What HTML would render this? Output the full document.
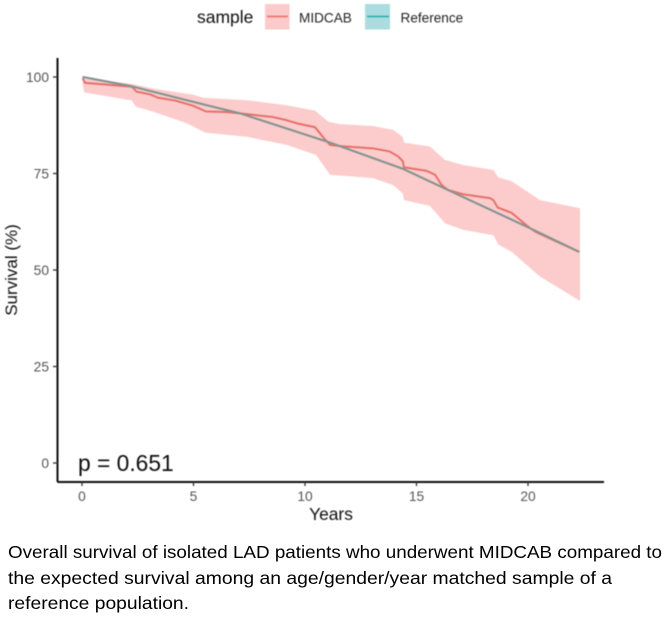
<!DOCTYPE html>
<html lang="en">
<head>
<meta charset="utf-8">
<title>Survival chart</title>
<style>
html,body{margin:0;padding:0;background:#fff;width:666px;height:617px;overflow:hidden}
svg{display:block;font-family:"Liberation Sans",sans-serif}
</style>
</head>
<body>
<svg id="chart" width="666" height="617" viewBox="0 0 666 617" xmlns="http://www.w3.org/2000/svg">
  <defs><filter id="soft" x="-5%" y="-5%" width="110%" height="110%"><feGaussianBlur stdDeviation="0.45"/></filter></defs>
  <g id="plot" filter="url(#soft)"></g>
  <g id="axes" filter="url(#soft)"></g>
  <g filter="url(#soft)">
    <text x="197" y="23" font-size="17.5" fill="#111">sample</text>
    <rect x="265" y="4" width="24.5" height="25.5" fill="#fbcaca"/>
    <line x1="267" x2="288" y1="16.5" y2="16.5" stroke="#ea7d76" stroke-width="2"/>
    <text x="299" y="22.5" font-size="13.6" fill="#222">MIDCAB</text>
    <rect x="365" y="4" width="25" height="25.5" fill="#abdcdf"/>
    <line x1="367" x2="389" y1="16.5" y2="16.5" stroke="#2fb1b6" stroke-width="2"/>
    <text x="400.5" y="22.5" font-size="13.6" fill="#222">Reference</text>
  </g>
  <text x="78" y="471" font-size="22.8" fill="#111" filter="url(#soft)">p = 0.651</text>
  <text x="331" y="520" text-anchor="middle" font-size="17.4" fill="#111" filter="url(#soft)">Years</text>
  <text transform="translate(17,270) rotate(-90)" text-anchor="middle" font-size="17" fill="#111" filter="url(#soft)">Survival (%)</text>
  <g font-size="17.5" fill="#000">
    <text x="8" y="558" textLength="654" lengthAdjust="spacingAndGlyphs">Overall survival of isolated LAD patients who underwent MIDCAB compared to</text>
    <text x="8" y="584" textLength="604" lengthAdjust="spacingAndGlyphs">the expected survival among an age/gender/year matched sample of a</text>
    <text x="8" y="609" textLength="181" lengthAdjust="spacingAndGlyphs">reference population.</text>
  </g>
</svg>
<script>
const xTicks = [0, 5, 10, 15, 20];
const yTicks = [0, 25, 50, 75, 100];
const midcabYears = [0.03,0.13,2.23,2.45,3.05,3.42,4.17,5,5.56,6.49,7.38,8.57,9.18,9.63,10.45,10.8,11.12,11.57,13.05,13.8,14.18,14.38,14.44,15.45,15.83,16.13,16.43,17.1,18.3,18.45,18.64,19.27,20.1,20.4,21.3,22.3];
const midcabSurvival = [99.7,98.5,97.5,96.2,95.5,94.6,93.9,92.5,91.1,90.9,90.4,89.6,88.8,88,87,84.5,82.4,82.1,81.5,80.7,79.4,78.2,76.6,75.7,74.7,72,70.7,69.6,68.6,68.1,66.2,64.8,60.8,59.7,57.3,54.7];
const upperYears = [0.03,0.13,2.23,3.2,5,5.44,7.38,9.18,10.45,11.05,11.57,13.05,13.95,14.38,14.44,15.6,16.28,17.1,18.45,18.67,19.27,20.54,22.33];
const upperSurvival = [100,99.5,98.2,97,95.4,94.6,94,92.7,91.3,88.4,87.8,87.3,86.3,84.5,83,82,78.5,77.2,75.9,74,73,68.1,66];
const lowerYears = [0.03,0.1,2.23,2.42,3.2,4.7,5.52,7.38,9.18,10.5,11.12,13.05,13.95,14.38,14.44,15.6,16.28,17.1,18.45,18.67,19.27,20.54,22.33];
const lowerSurvival = [98,96,93.9,92.3,91,88,85.6,84.5,82.4,79.8,74.7,73.8,72,69.9,68.1,66.6,62.1,60.4,59,56.6,54.7,48.3,42];
const referenceYears = [0.03,2.15,5.44,7.08,11.12,14.4,16.35,20.1,22.3];
const referenceSurvival = [100,97.7,92.9,90.6,83,76.2,70.9,60.8,54.7];

const NS = 'http://www.w3.org/2000/svg';
const xScale = function (v) { return 82 + v * 22.3; };
const yScale = function (v) { return 463 - v * 3.86; };
const plot = document.getElementById('plot');
const axes = document.getElementById('axes');

function make(parent, tag, attrs, text) {
  const el = document.createElementNS(NS, tag);
  Object.keys(attrs).forEach(function (k) { el.setAttribute(k, attrs[k]); });
  if (text !== undefined) el.textContent = text;
  parent.appendChild(el);
  return el;
}
function pts(xs, ys) {
  return xs.map(function (x, i) { return xScale(x).toFixed(1) + ',' + yScale(ys[i]).toFixed(1); });
}

const band = make(plot, 'polygon', {
  points: pts(upperYears, upperSurvival).concat(pts(lowerYears, lowerSurvival).reverse()).join(' '),
  fill: '#fbcccb'
});



const refLine = make(plot, 'polyline', {
  points: pts(referenceYears, referenceSurvival).join(' '),
  fill: 'none', stroke: '#2fb1b6', 'stroke-width': 2
});



const midLine = make(plot, 'polyline', {
  points: pts(midcabYears, midcabSurvival).join(' '),
  fill: 'none', stroke: '#e76d67', 'stroke-width': 2.1, 'stroke-linejoin': 'round'
});



const overlap = make(plot, 'polyline', {
  points: pts(referenceYears, referenceSurvival).join(' '),
  fill: 'none', stroke: '#84938f', 'stroke-width': 2.1
});



const xAxis = make(axes, 'line', { x1: 57.5, x2: 604, y1: 482, y2: 482, stroke: '#111', 'stroke-width': 2 });


const yAxis = make(axes, 'line', { x1: 57.5, x2: 57.5, y1: 58, y2: 482, stroke: '#111', 'stroke-width': 2 });



xTicks.forEach(function (t) {
  const x = xScale(t);
  const tick = make(axes, 'line', { x1: x, x2: x, y1: 482, y2: 486, stroke: '#333', 'stroke-width': 1.3 });
  
  
  const label = make(axes, 'text', { x: x, y: 501, 'text-anchor': 'middle', 'font-size': 13.8, fill: '#555' }, String(t));
  
  
});
yTicks.forEach(function (t) {
  const y = yScale(t);
  const tick = make(axes, 'line', { x1: 53, x2: 57.5, y1: y, y2: y, stroke: '#333', 'stroke-width': 1.3 });
  
  
  const label = make(axes, 'text', { x: 49, y: y + 5, 'text-anchor': 'end', 'font-size': 13.8, fill: '#555' }, String(t));
  
  
});
</script>
</body>
</html>
